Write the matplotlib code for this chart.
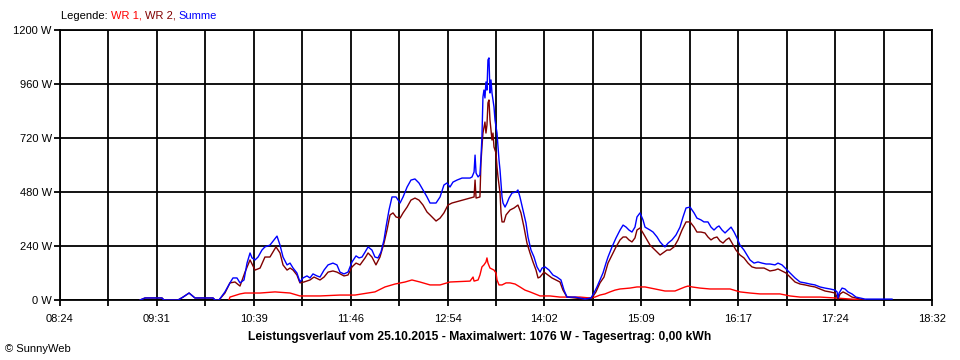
import numpy as np
import matplotlib
matplotlib.use('Agg')
import matplotlib.pyplot as plt

# --- data (time in minutes of day, power in W) ---
sum_t = [559.8, 563.3, 575.1, 576.5, 586.3, 589.8, 594.0, 598.1, 610.7, 612.1, 614.9,
         619.0, 622.5, 624.6, 627.4, 629.5, 632.3, 634.4, 636.5, 637.9, 640.0, 642.1,
         644.8, 646.9, 650.4, 653.2, 655.3, 657.4, 659.5, 662.3, 664.4, 666.5, 669.2,
         671.3, 673.4, 676.2, 678.3, 680.4, 683.2, 685.3, 688.1, 690.9, 694.3, 697.1,
         699.2, 702.0, 704.8, 707.6, 710.4, 712.5, 714.6, 716.7, 718.8, 721.5, 723.6,
         725.7, 727.8, 729.9, 731.3, 733.4, 735.5, 738.3, 741.1, 743.2, 746.0, 748.7,
         751.5, 754.3, 757.1, 759.9, 762.0, 766.2, 769.0, 771.7, 773.8, 775.9, 778.0,
         780.8, 784.3, 787.1, 789.9, 791.3, 792.7, 793.4, 794.1, 795.5, 796.8, 797.5,
         798.2, 798.9, 799.6, 800.3, 801.0, 801.7, 802.4, 803.1, 803.8, 804.5, 805.2,
         806.6, 807.3, 808.7, 809.4, 810.1, 810.8, 811.5, 812.2, 812.9, 814.3, 815.7,
         817.1, 819.2, 822.0, 823.3, 824.7, 826.8, 828.9, 830.3, 832.4, 834.5, 836.6,
         838.7, 840.1, 842.2, 845.0, 847.7, 850.5, 853.3, 855.4, 857.5, 863.1, 870.1,
         874.2, 876.3, 878.4, 880.5, 882.6, 884.7, 886.1, 888.9, 891.7, 894.5, 896.6,
         898.7, 900.7, 902.8, 904.9, 906.3, 908.4, 910.5, 911.9, 915.4, 917.5, 920.3,
         922.4, 924.4, 925.8, 928.0, 930.7, 933.5, 936.3, 938.4, 940.5, 943.3, 946.1,
         948.1, 950.9, 953.0, 955.8, 957.9, 960.0, 962.1, 963.5, 965.6, 967.7, 969.8,
         971.9, 974.0, 976.0, 978.1, 980.9, 983.0, 985.1, 987.9, 990.7, 993.5, 996.3,
         999.0, 1002.5, 1004.6, 1007.4, 1010.2, 1013.0, 1016.5, 1020.0, 1023.5, 1026.9,
         1030.4, 1033.9, 1037.4, 1040.9, 1044.4, 1045.8, 1046.5, 1047.2, 1049.3, 1051.3,
         1053.4, 1056.2, 1059.0, 1061.8, 1065.3, 1084.1]
sum_w = [0, 9, 9, 0, 0, 13, 31, 9, 9, 0, 0,
         36, 76, 98, 98, 76, 89, 164, 209, 187, 178, 191,
         222, 236, 244, 267, 284, 244, 191, 156, 164, 142, 120,
         80, 98, 107, 98, 116, 107, 102, 133, 156, 164, 156,
         124, 116, 124, 169, 196, 187, 191, 213, 236, 222, 191,
         187, 213, 267, 324, 400, 458, 458, 431, 458, 502, 533,
         538, 520, 489, 458, 431, 431, 458, 511, 520, 502, 524,
         533, 542, 542, 542, 547, 569, 644, 564, 547, 556, 631,
         724, 902, 933, 898, 969, 933, 1067, 1076, 920, 978, 920,
         858, 800, 742, 680, 622, 578, 520, 458, 431, 413, 431,
         453, 476, 480, 489, 458, 400, 342, 280, 222, 191, 147,
         124, 142, 147, 133, 111, 102, 89, 44, 13, 13, 4,
         9, 31, 58, 89, 120, 164, 191, 236, 276, 311, 333,
         324, 311, 302, 324, 369, 387, 356, 324, 311, 302, 280,
         258, 244, 236, 253, 267, 289, 324, 369, 409, 413, 387,
         364, 356, 347, 347, 324, 311, 324, 329, 311, 298, 311,
         324, 302, 276, 244, 222, 200, 178, 164, 169, 164, 160,
         160, 156, 164, 156, 138, 120, 98, 80, 76, 71,
         67, 58, 53, 49, 44, 36, 9, 31, 53, 49,
         36, 27, 13, 9, 4, 4]

wr2_t = [559.8, 563.3, 575.1, 576.5, 586.3, 589.8, 594.0, 598.1, 610.7, 612.1, 614.9,
         619.0, 622.5, 626.0, 629.5, 633.0, 636.5, 640.0, 643.5, 646.9, 650.4, 654.6,
         657.4, 659.5, 662.3, 664.4, 666.5, 669.2, 671.3, 674.1, 678.3, 681.1, 685.3,
         688.1, 690.9, 694.3, 697.1, 702.0, 704.8, 707.6, 710.4, 713.2, 716.7, 718.8,
         721.5, 724.3, 727.1, 729.9, 732.0, 734.1, 736.2, 738.3, 741.1, 743.2, 746.0,
         748.7, 751.5, 754.3, 757.1, 759.9, 762.0, 766.2, 769.0, 771.7, 774.5, 777.3,
         780.1, 784.3, 789.9, 792.7, 793.4, 794.1, 796.8, 797.5, 798.2, 798.9, 800.3,
         801.0, 801.7, 802.4, 803.1, 803.8, 805.2, 805.9, 806.6, 808.0, 808.7, 809.4,
         810.8, 811.5, 812.2, 813.6, 815.0, 817.8, 820.6, 823.3, 825.4, 827.5, 829.6,
         831.7, 833.8, 835.9, 837.3, 838.7, 841.5, 844.3, 847.0, 849.8, 852.6, 854.7,
         857.5, 863.1, 870.1, 874.9, 877.7, 880.5, 883.3, 886.1, 888.9, 891.7, 894.5,
         896.6, 898.7, 900.7, 902.8, 904.9, 906.3, 908.4, 910.5, 913.3, 915.4, 917.5,
         920.3, 922.4, 924.4, 927.2, 929.3, 932.1, 934.9, 937.7, 940.5, 943.3, 946.1,
         948.1, 950.9, 953.7, 955.8, 957.9, 960.0, 962.1, 964.2, 966.3, 968.4, 970.5,
         972.6, 975.3, 978.1, 980.9, 983.7, 986.5, 989.3, 992.1, 994.9, 999.0, 1002.5,
         1004.6, 1007.4, 1010.2, 1013.0, 1016.5, 1020.0, 1023.5, 1026.9, 1030.4, 1033.9,
         1037.4, 1040.9, 1044.4, 1046.5, 1047.9, 1050.0, 1052.7, 1056.2, 1059.0, 1061.8,
         1065.3]
wr2_w = [0, 9, 9, 0, 0, 13, 31, 9, 9, 0, 0,
         31, 76, 80, 62, 124, 178, 133, 142, 191, 191, 236,
         209, 156, 133, 142, 133, 111, 76, 80, 89, 102, 89,
         102, 124, 129, 124, 107, 111, 147, 164, 156, 187, 209,
         191, 156, 191, 253, 311, 378, 387, 369, 364, 387, 413,
         444, 453, 444, 422, 391, 378, 351, 364, 387, 422, 431,
         436, 444, 453, 458, 533, 453, 458, 609, 680, 742, 791,
         742, 778, 876, 889, 800, 711, 742, 680, 653, 591, 547,
         476, 387, 347, 347, 378, 400, 409, 422, 387, 324, 253,
         209, 169, 133, 98, 102, 124, 111, 98, 89, 80, 44,
         13, 9, 4, 9, 36, 76, 102, 164, 200, 236, 267,
         280, 280, 267, 258, 276, 311, 320, 298, 267, 244, 231,
         213, 200, 209, 222, 222, 236, 267, 311, 347, 347, 324,
         302, 302, 298, 280, 267, 276, 280, 262, 253, 267, 276,
         253, 222, 200, 187, 164, 147, 142, 142, 142, 129, 133,
         138, 129, 120, 102, 80, 71, 67, 62, 58, 49,
         40, 36, 31, 4, 27, 36, 27, 13, 9, 4,
         0]

wr1_t = [621.8, 622.5, 629.5, 633.0, 643.5, 653.9, 664.4, 671.3, 685.3, 699.2, 709.7,
         723.6, 730.6, 737.6, 744.6, 749.4, 755.0, 762.0, 769.0, 775.9, 789.9, 792.0,
         792.7, 795.5, 796.8, 798.2, 799.6, 801.0, 801.7, 802.4, 803.8, 806.6, 808.0,
         808.7, 810.1, 812.2, 815.0, 817.8, 821.3, 824.7, 828.2, 831.7, 838.7, 845.7,
         852.6, 859.6, 866.6, 873.5, 877.0, 880.5, 884.0, 887.5, 891.0, 894.5, 901.4,
         906.3, 911.9, 918.9, 925.8, 932.8, 939.8, 941.9, 944.7, 950.2, 957.2, 971.2,
         978.1, 985.1, 992.1, 1006.0, 1013.0, 1020.0, 1033.9, 1044.4, 1055.8, 1065.3]
wr1_w = [0, 13, 27, 31, 31, 36, 31, 18, 18, 22, 22,
         36, 58, 71, 80, 89, 80, 67, 67, 80, 84, 102,
         84, 89, 111, 147, 156, 169, 187, 164, 142, 133, 120,
         89, 67, 67, 76, 76, 71, 58, 44, 36, 18, 18,
         13, 13, 13, 9, 13, 22, 27, 36, 44, 49, 53,
         58, 58, 49, 40, 40, 58, 62, 58, 53, 49, 49,
         36, 31, 27, 27, 18, 13, 13, 9, 4, 0]

x_labels = ['08:24', '09:31', '10:39', '11:46', '12:54', '14:02', '15:09', '16:17', '17:24', '18:32']
y_values = [0, 240, 480, 720, 960, 1200]
t_start, t_end = 504, 1112

plt.rcParams['font.family'] = ['Liberation Sans', 'DejaVu Sans']
plt.rcParams['font.size'] = 8

fig = plt.figure(figsize=(9.6, 3.6), dpi=100)
ax = fig.add_axes([60 / 960, 60 / 360, 872 / 960, 270 / 360])

# grid
for xv in np.linspace(t_start, t_end, 19):
    ax.axvline(xv, color='black', lw=1.3, zorder=1)
for yv in y_values:
    ax.axhline(yv, color='black', lw=1.3, zorder=1)

ax.plot(wr1_t, wr1_w, color='#ff0000', lw=1.0, zorder=3)
ax.plot(wr2_t, wr2_w, color='#800000', lw=1.0, zorder=4)
ax.plot(sum_t, sum_w, color='#0000ff', lw=1.0, zorder=5)

ax.set_xlim(t_start, t_end)
ax.set_ylim(0, 1200)
ax.set_xticks(np.linspace(t_start, t_end, 10))
ax.set_xticklabels(x_labels)
ax.set_xticks(np.linspace(t_start, t_end, 19), minor=True)
ax.set_yticks(y_values)
ax.set_yticklabels([f'{v} W' for v in y_values])
ax.tick_params(axis='both', which='both', direction='out', length=4, width=1.3, color='black', labelsize=8)
ax.tick_params(axis='x', pad=6)
ax.tick_params(axis='y', pad=2)
for sp in ax.spines.values():
    sp.set_linewidth(1.3)

# legend line at top, coloured pieces
fig.canvas.draw()
renderer = fig.canvas.get_renderer()
x0 = 61 / 960
pieces = [('Legende: ', 'black'), ('WR 1, ', '#ff0000'), ('WR 2, ', '#800000'), ('Summe', '#0000ff')]
for txt, col in pieces:
    t = fig.text(x0, 1 - 16 / 360, txt, color=col, fontsize=8, ha='left', va='center')
    bb = t.get_window_extent(renderer)
    x0 += bb.width / fig.bbox.width

fig.text(480 / 960, 1 - 337 / 360,
         'Leistungsverlauf vom 25.10.2015 - Maximalwert: 1076 W - Tagesertrag: 0,00 kWh',
         ha='center', va='center', fontsize=8.7, fontweight='bold')
fig.text(5 / 960, 1 - 349 / 360, '\u00a9 SunnyWeb', ha='left', va='center', fontsize=8)

fig.savefig('out.png', dpi=100, facecolor='white')
